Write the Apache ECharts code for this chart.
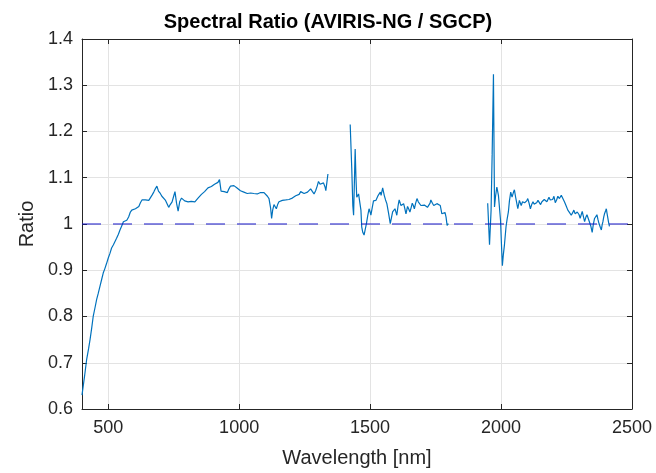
<!DOCTYPE html>
<html>
<head>
<meta charset="utf-8">
<script src="https://cdn.jsdelivr.net/npm/echarts@6/dist/echarts.min.js"></script>
<style>
  html, body { margin: 0; padding: 0; background: #ffffff; }
  #chart { width: 656px; height: 473px; }
</style>
</head>
<body>
<div id="chart"></div>
<script>
// Spectral ratio, three usable spectral windows (water-vapour bands removed)
const seg1Wl = [400,410,418,425,431,437,443,450,456,462,469,475,481,487,494,500,507,513,520,526,532,539,545,552,558,565,571,578,584,590,597,604,610,617,623,629,636,642,649,655,661,668,674,680,686,692,699,705,712,719,725,731,737,744,750,755,761,767,773,780,786,792,798,805,811,817,824,831,837,843,849,856,862,868,875,881,887,894,900,906,912,919,925,931,937,943,949,955,961,967,973,980,986,992,999,1005,1012,1018,1025,1031,1037,1044,1050,1056,1063,1069,1076,1082,1089,1095,1101,1108,1114,1120,1124,1128,1133,1138,1142,1147,1152,1158,1165,1171,1178,1184,1190,1197,1203,1209,1216,1222,1229,1235,1242,1248,1254,1261,1267,1273,1280,1286,1292,1298,1303,1309,1315,1322,1328,1331,1335,1339];
const seg1Ratio = [0.630,0.672,0.708,0.730,0.751,0.775,0.801,0.820,0.837,0.850,0.866,0.880,0.894,0.903,0.915,0.926,0.937,0.948,0.955,0.962,0.969,0.978,0.987,0.996,1.005,1.007,1.008,1.015,1.025,1.030,1.032,1.033,1.035,1.038,1.046,1.052,1.055,1.052,1.050,1.051,1.053,1.063,1.069,1.076,1.082,1.071,1.066,1.060,1.058,1.051,1.047,1.036,1.042,1.048,1.060,1.070,1.045,1.028,1.048,1.056,1.053,1.050,1.051,1.048,1.050,1.049,1.047,1.048,1.052,1.056,1.059,1.064,1.068,1.070,1.074,1.078,1.079,1.081,1.084,1.086,1.087,1.090,1.096,1.071,1.075,1.070,1.072,1.068,1.076,1.082,1.080,1.083,1.085,1.078,1.076,1.072,1.074,1.069,1.070,1.066,1.070,1.067,1.069,1.066,1.068,1.065,1.069,1.068,1.072,1.068,1.065,1.060,1.055,1.035,1.012,1.030,1.042,1.038,1.033,1.042,1.048,1.050,1.051,1.048,1.052,1.051,1.053,1.050,1.056,1.058,1.061,1.065,1.064,1.070,1.072,1.066,1.070,1.069,1.072,1.076,1.070,1.065,1.072,1.082,1.092,1.086,1.083,1.089,1.080,1.072,1.090,1.108];

const seg2Wl = [1424,1430,1434,1437,1440,1443,1446,1449,1453,1456,1459,1462,1465,1468,1472,1477,1482,1486,1491,1496,1500,1503,1508,1513,1518,1522,1527,1531,1535,1539,1542,1544,1548,1551,1554,1559,1564,1570,1577,1582,1586,1591,1595,1599,1602,1607,1611,1615,1618,1623,1628,1632,1637,1643,1648,1652,1657,1661,1665,1669,1674,1679,1684,1688,1694,1701,1707,1713,1719,1724,1729,1732,1738,1743,1749,1755,1762,1768,1774,1780,1786,1790,1794,1799];
const seg2Ratio = [1.215,1.120,1.040,1.019,1.090,1.162,1.100,1.058,1.062,1.065,1.067,1.069,1.030,0.994,0.982,0.976,0.990,1.001,1.018,1.033,1.026,1.019,1.035,1.050,1.048,1.051,1.055,1.062,1.066,1.069,1.062,1.060,1.078,1.070,1.062,1.052,1.044,1.025,1.001,1.015,1.026,1.030,1.033,1.025,1.019,1.040,1.052,1.045,1.040,1.042,1.044,1.035,1.022,1.038,1.032,1.026,1.036,1.045,1.040,1.033,1.045,1.055,1.048,1.044,1.040,1.037,1.041,1.040,1.036,1.038,1.045,1.052,1.045,1.040,1.042,1.044,1.042,1.040,1.022,1.023,1.025,1.015,0.997,1.001];

const seg3Wl = [1949,1956,1962,1966,1971,1975,1979,1984,1990,1994,1998,2002,2005,2009,2013,2019,2023,2028,2032,2037,2042,2047,2051,2055,2058,2064,2070,2074,2077,2082,2086,2090,2093,2098,2102,2107,2112,2117,2122,2126,2130,2136,2141,2146,2151,2156,2160,2165,2169,2172,2175,2179,2183,2188,2192,2197,2202,2207,2212,2217,2223,2230,2236,2242,2248,2255,2261,2268,2273,2278,2283,2287,2291,2294,2298,2302,2306,2310,2315,2319,2324,2328,2333,2338,2343,2348,2352,2357,2362,2366,2370,2374,2379,2383,2386,2389,2392,2395,2399,2402,2405,2408,2411,2414];
const seg3Ratio = [1.045,0.955,1.030,1.150,1.324,1.037,1.060,1.080,1.062,1.035,1.008,0.950,0.910,0.935,0.955,0.994,1.010,1.026,1.050,1.069,1.058,1.068,1.074,1.060,1.051,1.033,1.051,1.045,1.040,1.048,1.051,1.046,1.044,1.050,1.055,1.045,1.033,1.042,1.048,1.043,1.040,1.046,1.051,1.047,1.042,1.048,1.051,1.053,1.056,1.050,1.048,1.053,1.058,1.052,1.048,1.053,1.060,1.046,1.052,1.060,1.055,1.062,1.058,1.048,1.040,1.030,1.025,1.019,1.024,1.030,1.022,1.019,1.026,1.030,1.020,1.012,1.020,1.027,1.015,1.005,1.015,1.020,1.012,1.008,0.995,0.982,0.998,1.012,1.016,1.020,1.010,1.001,0.993,0.987,0.998,1.005,1.015,1.022,1.028,1.033,1.022,1.012,1.002,0.995];

// Unity reference line
const refWl = [400, 2500];
const refRatio = [1, 1];

const xTicks = [500, 1000, 1500, 2000, 2500];
const yMin = 0.6, yMax = 1.4, yStep = 0.1;
const xMin = 400, xMax = 2500;

const pairs = (xs, ys) => xs.map((x, i) => [x, ys[i]]);

const ink = '#262626';
const lineBlue = '#0072BD';
const font = '"Liberation Sans", Arial, Helvetica, sans-serif';

const chart = echarts.init(document.getElementById('chart'), null, { renderer: 'canvas' });

const spectrumSeries = (data) => ({
  type: 'line',
  data: data,
  xAxisIndex: 0,
  yAxisIndex: 0,
  showSymbol: false,
  symbol: 'none',
  smooth: false,
  lineStyle: { color: lineBlue, width: 1.2 },
  z: 3,
  animation: false
});

chart.setOption({
  animation: false,
  backgroundColor: '#ffffff',
  title: {
    text: 'Spectral Ratio (AVIRIS-NG / SGCP)',
    left: 'center',
    top: 7,
    textStyle: { fontFamily: font, fontSize: 20, fontWeight: 'bold', color: '#000000' }
  },
  grid: { left: 82, right: 24, top: 39, bottom: 61, containLabel: false },
  xAxis: [
    {
      type: 'value',
      min: xMin, max: xMax,
      name: 'Wavelength [nm]',
      nameLocation: 'middle',
      nameGap: 39,
      nameTextStyle: { fontFamily: font, fontSize: 20, color: ink },
      axisLine: { show: true, onZero: false, lineStyle: { color: ink, width: 1 } },
      axisTick: { show: true, inside: true, length: 5, customValues: xTicks, lineStyle: { color: ink, width: 1 } },
      axisLabel: { show: true, customValues: xTicks, fontFamily: font, fontSize: 18, color: ink, margin: 10,
        formatter: (v) => String(Math.round(v)) },
      splitLine: { show: true, lineStyle: { color: '#e3e3e3', width: 1 } }
    },
    {
      type: 'value',
      position: 'top',
      min: xMin, max: xMax,
      axisLine: { show: true, onZero: false, lineStyle: { color: ink, width: 1 } },
      axisTick: { show: true, inside: true, length: 5, customValues: xTicks, lineStyle: { color: ink, width: 1 } },
      axisLabel: { show: false },
      splitLine: { show: false }
    }
  ],
  yAxis: [
    {
      type: 'value',
      min: yMin, max: yMax, interval: yStep,
      name: 'Ratio',
      nameLocation: 'middle',
      nameGap: 40,
      nameTextStyle: { fontFamily: font, fontSize: 20, color: ink },
      axisLine: { show: true, onZero: false, lineStyle: { color: ink, width: 1 } },
      axisTick: { show: true, inside: true, length: 5, lineStyle: { color: ink, width: 1 } },
      axisLabel: { show: true, fontFamily: font, fontSize: 18, color: ink, margin: 9,
        formatter: (v) => String(Math.round(v * 10) / 10) },
      splitLine: { show: true, lineStyle: { color: '#e3e3e3', width: 1 } }
    },
    {
      type: 'value',
      position: 'right',
      min: yMin, max: yMax, interval: yStep,
      axisLine: { show: true, onZero: false, lineStyle: { color: ink, width: 1 } },
      axisTick: { show: true, inside: true, length: 5, lineStyle: { color: ink, width: 1 } },
      axisLabel: { show: false },
      splitLine: { show: false }
    }
  ],
  series: [
    spectrumSeries(pairs(seg1Wl, seg1Ratio)),
    spectrumSeries(pairs(seg2Wl, seg2Ratio)),
    spectrumSeries(pairs(seg3Wl, seg3Ratio)),
    {
      type: 'line',
      data: pairs(refWl, refRatio),
      showSymbol: false,
      symbol: 'none',
      lineStyle: { color: '#1414c8', width: 1.1, type: [19, 12] },
      z: 4,
      animation: false
    }
  ]
});
</script>
</body>
</html>
